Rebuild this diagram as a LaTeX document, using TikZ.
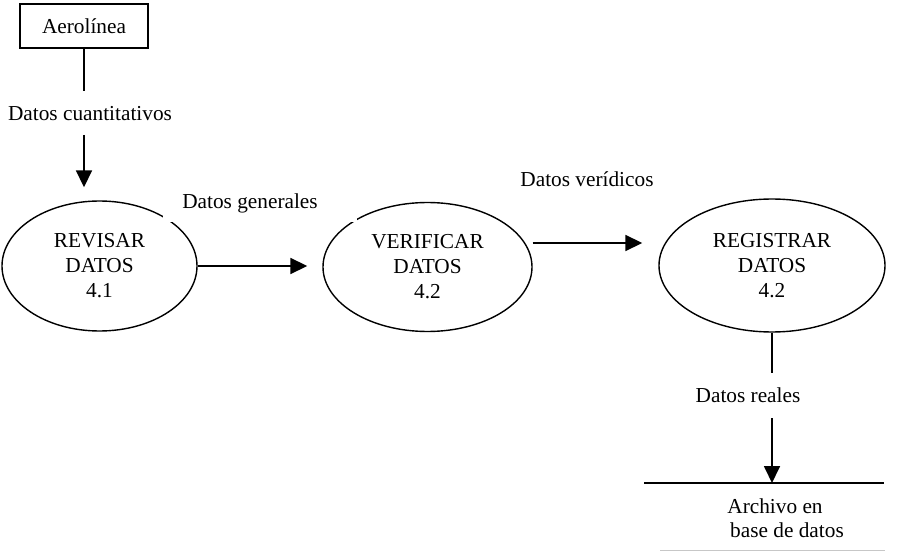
\documentclass[tikz,border=0pt]{standalone}
\usepackage{fontspec}
\setmainfont{Liberation Serif}
\usetikzlibrary{arrows.meta,shapes.geometric}
\begin{document}
\begin{tikzpicture}[x=1pt,y=-1pt,
  txt/.style={font=\fontsize{21.3}{25}\selectfont},
  lbl/.style={txt, inner sep=0pt, anchor=base},
  proc/.style={txt, draw, ellipse, line width=1.4pt, inner sep=0pt, align=center},
  flow/.style={line width=1.8pt, -{Triangle[length=17pt,width=16pt]}},
  plainline/.style={line width=1.8pt}]
\useasboundingbox (0,0) rectangle (898,559);
% entity
\node[txt, draw, line width=1.2pt, minimum width=128pt, minimum height=44pt, inner sep=0pt] (aero) at (84,26) {Aerolínea};
% processes
\node[proc, minimum width=195pt, minimum height=130pt] (e1) at (99.5,266) {REVISAR\\DATOS\\4.1};
\node[proc, minimum width=209pt, minimum height=129pt] (e2) at (427.5,267) {VERIFICAR\\DATOS\\4.2};
\node[proc, minimum width=226pt, minimum height=133pt] (e3) at (772,265.5) {REGISTRAR\\DATOS\\4.2};
% text box background of "Datos generales" (hides part of the ellipses)
\fill[white] (163,188) rectangle (357,222);
% labels
\node[lbl] (lc) at (90,121) {Datos cuantitativos};
\node[lbl] (lg) at (250,209) {Datos generales};
\node[lbl] (lv) at (587,187) {Datos verídicos};
\node[lbl] (lr) at (748,402) {Datos reales};
\node[lbl] (a1) at (775,513) {Archivo en};
\node[lbl] (a2) at (787,537) {base de datos};
% coordinates
\coordinate (c1) at (84,91);
\coordinate (c2) at (84,135);
\coordinate (vy) at (0,243);
\coordinate (r1) at (772,373);
\coordinate (r2) at (772,418);
\coordinate (st) at (772,483);
\coordinate (sL) at (644,483);
\coordinate (sR) at (884,483);
\coordinate (gL) at (660,550);
\coordinate (gR) at (885,550);
% connectors
\draw[plainline] (aero.south) -- (c1);
\draw[flow, shorten >=13pt] (c2) -- (c2 |- e1.north);
\draw[flow, shorten >=15pt] (e1.east) -- (e1.east -| e2.west);
\draw[flow, shorten >=16pt] (e2.east |- vy) -- (e3.west |- vy);
\draw[plainline] (e3.south) -- (r1);
\draw[flow] (r2) -- (st);
% data store
\draw[line width=1.6pt] (sL) -- (sR);
\draw[line width=1pt, black!22] (gL) -- (gR);
\end{tikzpicture}
\end{document}
